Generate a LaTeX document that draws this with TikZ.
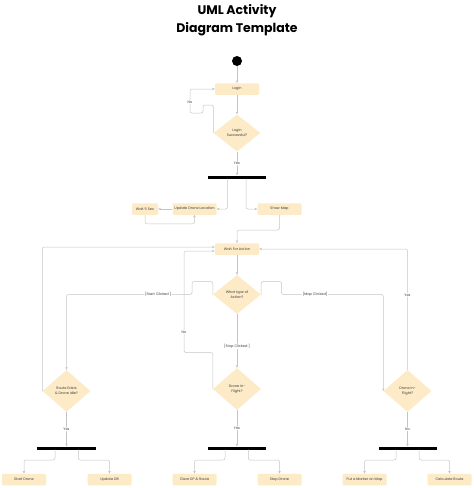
\documentclass[tikz,border=0pt]{standalone}
\usepackage{fontspec}
\setmainfont{Poppins}
\usetikzlibrary{shapes.geometric,arrows.meta,calc}
\definecolor{boxc}{HTML}{FDEBC8}
\definecolor{linec}{HTML}{C4C4C4}
\definecolor{txt}{HTML}{3A3A3A}
\tikzset{
  titletext/.style={font=\fontsize{12.5}{14}\selectfont\bfseries, text=black, inner sep=0pt},
  act/.style={fill=boxc, rounded corners=1pt, minimum width=44pt, minimum height=11.5pt,
    inner sep=0pt, font=\fontsize{3.5}{4.2}\selectfont, text=txt},
  dec/.style={diamond, fill=boxc, minimum width=48pt, minimum height=42pt, inner sep=0pt,
    align=center, font=\fontsize{3.5}{4.8}\selectfont, text=txt},
  bar/.style={fill=black, minimum height=3pt, inner sep=0pt},
  flow/.style={draw=linec, line width=0.5pt, rounded corners=2pt,
    -{Triangle[open, length=2.4pt, width=2.4pt]}},
  lbl/.style={fill=white, inner sep=0.6pt, font=\fontsize{3.5}{4.2}\selectfont, text=txt},
}
\begin{document}
\begin{tikzpicture}[x=1pt,y=-1pt]
\useasboundingbox (0,0) rectangle (474,488);
% title
\node[titletext] (t1) at (237,11.5) {UML Activity};
\node[titletext] (t2) at (237,29) {Diagram Template};
% nodes
\node[circle, fill=black, minimum size=10pt, inner sep=0pt] (start) at (237,61) {};
\node[act] (login) at (237,89) {Login};
\node[dec, minimum width=47pt, minimum height=37pt] (ls) at (237,133) {Login\\Successful?};
\node[bar, minimum width=58pt] (f1) at (237,177) {};
\node[act, minimum width=26pt] (w5) at (145,209) {Wait 5 Sec};
\node[act] (upd) at (194.5,209) {Update Drone Location};
\node[act] (map) at (279.5,209) {Show Map};
\node[act] (wfa) at (237,249) {Wait For Action};
\node[dec, minimum height=39pt] (what) at (237,294.5) {What type of\\Action?};
\node[dec] (route) at (66.5,391) {Route Exists\\\& Drone Idle?};
\node[dec] (mid) at (237,389) {Drone In-\\Flight?};
\node[dec] (dr) at (407.5,391) {Drone In-\\Flight?};
\node[bar, minimum width=59pt] (b1) at (66.5,448) {};
\node[bar, minimum width=58pt] (b2) at (237,448) {};
\node[bar, minimum width=58pt] (b3) at (407.5,448) {};
\node[act] (sd) at (24,479.5) {Start Drone};
\node[act] (udb) at (109.5,479.5) {Update DB};
\node[act] (clr) at (194.5,479.5) {Clear DP \& Route};
\node[act] (stp) at (279.5,479.5) {Stop Drone};
\node[act] (mk) at (364.5,479.5) {Put a Marker on Map};
\node[act] (cr) at (449.5,479.5) {Calculate Route};
% taps on bars
\coordinate (f1l) at (227.5,178.5);
\coordinate (f1r) at (246,178.5);
\coordinate (b1l) at (55,449.5);
\coordinate (b1r) at (78.3,449.5);
\coordinate (b2l) at (225,449.5);
\coordinate (b2r) at (248.3,449.5);
\coordinate (b3l) at (396,449.5);
\coordinate (b3r) at (419,449.5);
% connectors
\draw[flow] (start) -- (login);
\draw[flow] (login) -- (ls);
\draw[flow] (ls) -- node[lbl]{Yes} (f1);
\draw[flow] (ls.west) |- (203,105) -- (203,113) -- (190,113) -- node[lbl, pos=0.45]{No} (190,89) -- (login.west);
\draw[flow] (f1l) |- (upd.east);
\draw[flow] (f1r) |- (map.west);
\draw[flow] (upd) -- (w5);
\draw[flow] (w5.south) -- ++(0,9) -| (upd.south);
\draw[flow] (map.south) |- (237,230) -- (wfa.north);
\draw[flow] (wfa) -- (what);
\draw[flow] (what.west) |- (192,281.5) -- (192,294.5) -- node[lbl, pos=0.27]{[Start Clicked ]} (66.5,294.5) -- (route.north);
\draw[flow] (what.east) |- (281.5,281.5) -- (281.5,294.5) -| node[lbl, pos=0.165]{[Map Clicked]} (dr.west);
\draw[flow] (what) -- node[lbl, pos=0.6]{[Stop Clicked ]} (mid);
\draw[flow] (route.west) |- ($(wfa.west)+(0,-2)$);
\draw[flow] (mid.west) |- (184,352.5) |- node[lbl, pos=0.1]{No} ($(wfa.west)+(0,2)$);
\draw[flow] (dr.north) |- node[lbl, pos=0.31]{Yes} (wfa.east);
\draw[flow] (route) -- node[lbl]{Yes} (b1);
\draw[flow] (mid) -- node[lbl]{Yes} (b2);
\draw[flow] (dr) -- node[lbl]{No} (b3);
\draw[flow] (b1l) -- ++(0,10.5) -| (sd.north);
\draw[flow] (b1r) -- ++(0,10.5) -| (udb.north);
\draw[flow] (b2l) -- ++(0,10.5) -| (clr.north);
\draw[flow] (b2r) -- ++(0,10.5) -| (stp.north);
\draw[flow] (b3l) -- ++(0,10.5) -| (mk.north);
\draw[flow] (b3r) -- ++(0,10.5) -| (cr.north);
\end{tikzpicture}
\end{document}
